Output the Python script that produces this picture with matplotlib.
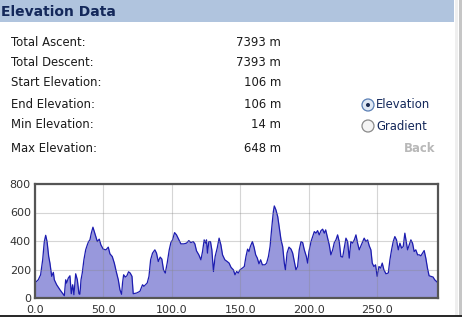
import matplotlib
matplotlib.use("Agg")
import matplotlib.pyplot as plt
from matplotlib.patches import Rectangle, Circle

# summary table
stat_labels = ["Total Ascent:", "Total Descent:", "Start Elevation:",
               "End Elevation:", "Min Elevation:", "Max Elevation:"]
stat_values = ["7393 m", "7393 m", "106 m", "106 m", "14 m", "648 m"]

# elevation profile, distance (km) vs elevation (m)
distance = [
    0, 2.4, 4.1, 5.6, 6.8, 7.8, 8.8, 10.0, 10.9, 12.2, 13.4, 14.1, 15.8, 18.2,
    21.4, 22.4, 23.1, 24.3, 25.5, 26.5, 27.5, 28.4, 29.7, 30.9, 32.1, 32.8,
    33.6, 34.5, 35.7, 37.0, 38.2, 39.1, 40.1, 41.1, 42.3, 43.3, 44.5, 45.5,
    46.9, 48.1, 49.8, 51.8, 53.5, 54.7, 56.4, 57.9, 59.3, 60.8, 62.0, 63.2,
    63.9, 64.7, 65.9, 67.1, 68.3, 69.5, 70.8, 71.7, 74.2, 76.6, 78.5, 79.5,
    80.7, 81.9, 83.2, 84.4, 85.8, 87.5, 88.7, 90.0, 91.4, 92.6, 93.8, 95.1,
    96.5, 98.0, 99.2, 100.4, 101.9, 103.3, 104.8, 106.5, 108.7, 110.6, 112.3,
    113.8, 115.5, 116.7, 117.9, 119.6, 121.1, 122.3, 123.5, 124.5, 125.2,
    125.9, 126.9, 128.1, 129.1, 130.3, 131.5, 133.0, 134.4, 135.7, 136.9,
    138.6, 140.3, 141.7, 143.0,
    143.6, 144.8, 146.0, 147.2, 148.4, 149.7, 151.4, 152.8, 154.0, 155.2,
    156.2, 157.2, 158.7, 159.9, 161.1, 162.3, 163.5, 164.7, 166.0, 167.9,
    169.1, 170.4, 171.6, 172.8, 174.0, 174.7, 175.9, 177.2, 178.4, 179.6,
    180.8, 182.0, 182.8, 184.0, 185.4, 186.9, 188.1, 189.3, 190.5, 191.7,
    192.9, 194.2, 195.4, 196.6, 198.1, 199.0, 200.0, 201.5, 202.7, 203.9,
    205.1, 206.3, 207.5, 208.8, 210.0, 211.2, 212.2, 213.6, 214.8, 216.0,
    217.3, 218.5, 219.7, 220.9, 222.1, 223.3, 224.6, 225.5, 227.0, 228.2,
    229.4, 230.6, 231.8, 233.1, 234.3, 235.5, 236.7, 237.9, 239.1, 240.3,
    241.6, 242.8, 244.0, 245.2, 246.2, 247.4, 248.6, 249.8, 251.1, 252.3,
    253.5, 254.7, 256.2, 257.9, 259.1, 260.3, 261.5, 262.7, 263.9, 265.2,
    266.4, 267.6, 268.8, 270.0, 271.0, 272.0, 273.2, 274.4, 275.6, 276.8,
    278.0, 279.3, 280.5, 281.7, 282.9, 284.1, 285.3, 286.5, 287.7, 288.9,
    290.6, 291.8, 293.0, 294.2,
]
elevation = [
    106, 128, 163, 268, 396, 440, 396, 291, 245, 152, 180, 128, 93, 58,
    16, 128, 105, 140, 156, 30, 93, 23, 170, 128, 30, 26,
    128, 175, 268, 338, 373, 396, 408, 455, 497, 466, 431, 396,
    413, 373, 343, 338, 357, 310, 291, 245, 186, 128, 58, 26,
    105, 163, 147, 156, 184, 175, 152, 30, 35, 47, 93, 82,
    93, 105, 152, 268, 315, 338, 315, 256, 287, 273, 198, 175,
    245, 338, 389, 408, 459, 443, 413, 380, 380, 385, 403,
    389, 396, 380, 331, 303, 268, 326, 408, 385, 408,
    315, 396, 396, 338, 186, 291, 350, 420, 373, 303,
    268, 256, 245, 217,
    210, 198, 163, 186, 175, 198, 210, 221, 291, 343,
    326, 361, 396, 357, 303, 280, 240, 268, 233, 233,
    245, 291, 361, 490, 606, 646, 618, 571, 490, 408,
    361, 245, 198, 315, 357, 343, 315, 256, 198, 221,
    338, 396, 389, 338, 291, 245, 326, 396, 431, 466,
    455, 473, 443, 473, 483, 455, 478, 420, 373, 303,
    338, 389, 408, 443, 396, 291, 287, 338, 420, 396,
    280, 396, 385, 408, 443, 385, 338, 366, 396, 420,
    396, 408, 366, 338, 245, 221, 233, 152, 221, 210,
    245, 198, 170, 175, 268, 338, 396, 431, 408, 338,
    385, 350, 361, 455, 396, 338, 373, 408, 385, 326,
    338, 303, 303, 296, 315, 333, 280, 210, 156, 152,
    147, 128, 117, 106,
]
x_ticks = [0, 50, 100, 150, 200, 250]
y_ticks = [0, 200, 400, 600, 800]

W, H = 462, 321
fig = plt.figure(figsize=(W / 100, H / 100), dpi=100)
fig.patch.set_facecolor("white")

# background axes in pixel units for the page furniture
bg = fig.add_axes([0, 0, 1, 1])
bg.set_xlim(0, W)
bg.set_ylim(H, 0)
bg.axis("off")

# header bar
bg.add_patch(Rectangle((0, 0), 454, 22, facecolor="#b0c4de", edgecolor="none"))
bg.text(1, 11.5, "Elevation Data", fontsize=10, fontweight="bold",
        color="#14285a", va="center", ha="left")

# scrollbar at the right edge + bottom rule
bg.add_patch(Rectangle((455, 0), 3, 315, facecolor="#efefef", edgecolor="none"))
bg.add_patch(Rectangle((458.5, 0), 3, 315, facecolor="#c6c6c6", edgecolor="none"))
bg.plot([0, W], [316, 316], color="black", lw=1.2)

# statistics
row_y = [42, 62, 83, 104, 125, 149]
for lab, val, y in zip(stat_labels, stat_values, row_y):
    bg.text(11, y, lab, fontsize=8.4, color="#1a1a1a", va="center")
    bg.text(281, y, val, fontsize=8.4, color="#1a1a1a", va="center", ha="right")

# radio buttons
for y, lab, sel in [(105, "Elevation", True), (126, "Gradient", False)]:
    bg.add_patch(Circle((368, y), 6, facecolor="#dfe8f4" if sel else "#f4f4f4",
                        edgecolor="#5a7fb5" if sel else "#8a8a8a", lw=0.9))
    if sel:
        bg.add_patch(Circle((368, y), 2, facecolor="#1a2a50", edgecolor="none"))
    bg.text(376, y, lab, fontsize=8.4, color="#14285a", va="center")
bg.text(435, 149, "Back", fontsize=8.4, color="#b8b8b8", va="center",
        ha="right", fontweight="bold")

# elevation chart
ax = fig.add_axes([35 / W, 1 - 298 / H, (438 - 35) / W, (298 - 184) / H])
ax.fill_between(distance, elevation, 0, color="#9898dc", lw=0, zorder=1)
ax.plot(distance, elevation, color="#1c1cb0", lw=0.9, zorder=2)
ax.set_xlim(0, 294.2)
ax.set_ylim(0, 800)
ax.set_xticks(x_ticks)
ax.set_xticklabels([f"{v:.1f}" for v in x_ticks])
ax.set_yticks(y_ticks)
ax.grid(True, color="#888888", alpha=0.35, lw=0.8, zorder=3)
ax.set_axisbelow(False)
for sp in ax.spines.values():
    sp.set_color("#555555")
    sp.set_linewidth(1.6)
    sp.set_zorder(4)
ax.tick_params(axis="y", length=0, labelsize=8, labelcolor="#333333", pad=3)
ax.tick_params(axis="x", length=0, labelsize=8, labelcolor="#333333", pad=5)

fig.savefig("out.png", dpi=100)
